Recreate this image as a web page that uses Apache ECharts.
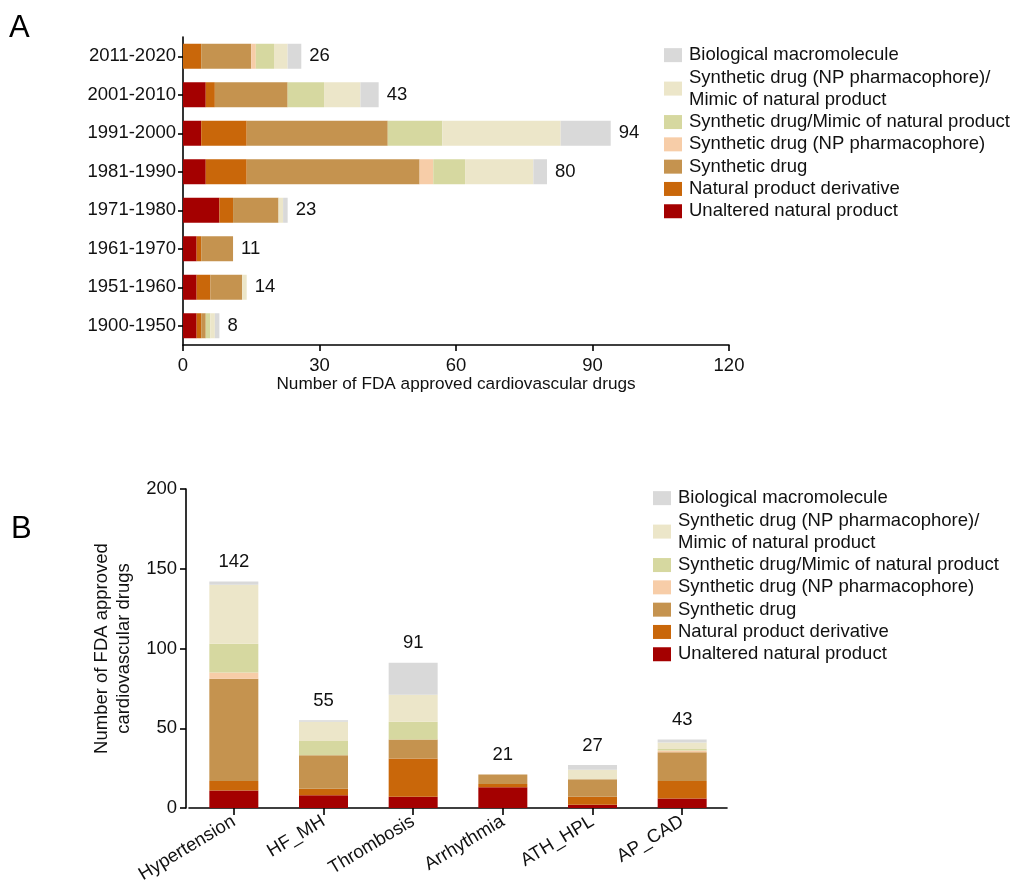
<!DOCTYPE html>
<html>
<head>
<meta charset="utf-8">
<title>FDA approved cardiovascular drugs by source</title>
<script src="https://cdn.jsdelivr.net/npm/echarts@6/dist/echarts.min.js"></script>
<style>
  html, body { margin: 0; padding: 0; background: #fff; }
  #chart { width: 1015px; height: 895px; }
</style>
</head>
<body>
<div id="chart"></div>
<script>
// Source categories, bottom of each stack first
const sourceNames = [
  'Unaltered natural product',
  'Natural product derivative',
  'Synthetic drug',
  'Synthetic drug (NP pharmacophore)',
  'Synthetic drug/Mimic of natural product',
  'Synthetic drug (NP pharmacophore)/Mimic of natural product',
  'Biological macromolecule'
];
const sourceColors = ['#a40000', '#c9670a', '#c5934f', '#f7cda8', '#d6d8a0', '#ece6c9', '#d9d9d9'];

// Panel A: approvals by decade (top row first)
const decades = ['2011-2020', '2001-2010', '1991-2000', '1981-1990', '1971-1980', '1961-1970', '1951-1960', '1900-1950'];
const decadeUnaltered  = [0, 5, 4, 5, 8, 3, 3, 3];
const decadeDerivative = [4, 2, 10, 9, 3, 1, 3, 1];
const decadeSynthetic  = [11, 16, 31, 38, 10, 7, 7, 1];
const decadeNPPharm    = [1, 0, 0, 3, 0, 0, 0, 0];
const decadeSynMimic   = [4, 8, 12, 7, 0, 0, 0, 1];
const decadeNPMimic    = [3, 8, 26, 15, 1, 0, 1, 1];
const decadeBiological = [3, 4, 11, 3, 1, 0, 0, 1];
const decadeTicks = [0, 30, 60, 90, 120];

// Panel B: approvals by indication
const indications = ['Hypertension', 'HF_MH', 'Thrombosis', 'Arrhythmia', 'ATH_HPL', 'AP_CAD'];
const indUnaltered  = [11, 8, 7, 13, 2, 6];
const indDerivative = [6, 4, 24, 2, 5, 11];
const indSynthetic  = [64, 21, 12, 6, 11, 18];
const indNPPharm    = [4, 0, 0, 0, 0, 1];
const indSynMimic   = [18, 9, 11, 0, 0, 1];
const indNPMimic    = [37, 12, 17, 0, 6, 4];
const indBiological = [2, 1, 20, 0, 3, 2];
const indicationTicks = [0, 50, 100, 150, 200];

const decadeSeries = [decadeUnaltered, decadeDerivative, decadeSynthetic, decadeNPPharm, decadeSynMimic, decadeNPMimic, decadeBiological];
const indicationSeries = [indUnaltered, indDerivative, indSynthetic, indNPPharm, indSynMimic, indNPMimic, indBiological];

function totals(groups) {
  return groups[0].map((_, i) => groups.reduce((s, g) => s + g[i], 0));
}
const decadeTotals = totals(decadeSeries);
const indicationTotals = totals(indicationSeries);

const FONT = '"Liberation Sans", Arial, Helvetica, sans-serif';
const FS = 18.5;
const TEXT = '#111';
const AXIS_LINE = { show: true, lineStyle: { color: '#000', width: 1.6 } };

const legendOrder = sourceNames.slice().reverse();
function legendFor(left, top) {
  return {
    orient: 'vertical',
    left: left,
    top: top,
    data: legendOrder,
    itemWidth: 18,
    itemHeight: 14,
    itemGap: 0,
    icon: 'rect',
    selectedMode: false,
    formatter: function (name) {
      return name.replace(')/Mimic', ')/\nMimic');
    },
    textStyle: { fontFamily: FONT, fontSize: FS, color: TEXT, lineHeight: 22.3, padding: [0, 0, 0, 2] }
  };
}

const series = [];
// Panel A stacks (horizontal)
sourceNames.forEach((name, k) => {
  series.push({
    name: name,
    type: 'bar',
    stack: 'decade',
    xAxisIndex: 0,
    yAxisIndex: 0,
    barWidth: 25,
    barGap: '-100%',
    itemStyle: { color: sourceColors[k] },
    data: decadeSeries[k]
  });
});
series.push({
  name: 'decadeTotal',
  type: 'bar',
  xAxisIndex: 0,
  yAxisIndex: 0,
  barWidth: 25,
  barGap: '-100%',
  silent: true,
  z: 1,
  itemStyle: { color: 'rgba(0,0,0,0)' },
  label: { show: true, position: 'right', distance: 8, fontFamily: FONT, fontSize: FS, color: TEXT },
  data: decadeTotals
});
// Panel B stacks (vertical)
sourceNames.forEach((name, k) => {
  series.push({
    name: name,
    type: 'bar',
    stack: 'indication',
    xAxisIndex: 1,
    yAxisIndex: 1,
    barWidth: 49,
    barGap: '-100%',
    itemStyle: { color: sourceColors[k] },
    data: indicationSeries[k]
  });
});
series.push({
  name: 'indicationTotal',
  type: 'bar',
  xAxisIndex: 1,
  yAxisIndex: 1,
  barWidth: 49,
  barGap: '-100%',
  silent: true,
  z: 1,
  itemStyle: { color: 'rgba(0,0,0,0)' },
  label: { show: true, position: 'top', distance: 10, fontFamily: FONT, fontSize: FS, color: TEXT },
  data: indicationTotals
});

const option = {
  animation: false,
  backgroundColor: '#fff',
  textStyle: { fontFamily: FONT },
  graphic: [
    { type: 'text', left: 9, top: 13, style: { text: 'A', font: '31px ' + FONT, fill: '#000' } },
    { type: 'text', left: 11, top: 514, style: { text: 'B', font: '31px ' + FONT, fill: '#000' } }
  ],
  legend: [legendFor(659, 39), legendFor(648, 482)],
  grid: [
    { left: 183, right: 286, top: 37, bottom: 550 },
    { left: 189, right: 288, top: 489, bottom: 87 }
  ],
  xAxis: [
    {
      gridIndex: 0,
      type: 'value',
      min: decadeTicks[0],
      max: decadeTicks[decadeTicks.length - 1],
      interval: decadeTicks[1] - decadeTicks[0],
      axisLine: AXIS_LINE,
      axisTick: { show: true, length: 6, lineStyle: { color: '#000', width: 1.6 } },
      splitLine: { show: false },
      axisLabel: { fontFamily: FONT, fontSize: FS, color: TEXT, margin: 11 },
      name: 'Number of FDA approved cardiovascular drugs',
      nameLocation: 'middle',
      nameGap: 30,
      nameTextStyle: { fontFamily: FONT, fontSize: 17.2, color: TEXT }
    },
    {
      gridIndex: 1,
      type: 'category',
      data: indications,
      axisLine: AXIS_LINE,
      axisTick: { show: true, alignWithLabel: true, length: 7, lineStyle: { color: '#000', width: 1.6 } },
      axisLabel: { fontFamily: FONT, fontSize: FS, color: TEXT, rotate: 31, margin: 12, interval: 0 }
    }
  ],
  yAxis: [
    {
      gridIndex: 0,
      type: 'category',
      inverse: true,
      data: decades,
      axisLine: AXIS_LINE,
      axisTick: { show: true, alignWithLabel: true, length: 5, lineStyle: { color: '#000', width: 1.6 } },
      axisLabel: { fontFamily: FONT, fontSize: FS, color: TEXT, margin: 7 }
    },
    {
      gridIndex: 1,
      type: 'value',
      offset: 3,
      min: indicationTicks[0],
      max: indicationTicks[indicationTicks.length - 1],
      interval: indicationTicks[1] - indicationTicks[0],
      axisLine: AXIS_LINE,
      axisTick: { show: true, length: 6, lineStyle: { color: '#000', width: 1.6 } },
      splitLine: { show: false },
      axisLabel: { fontFamily: FONT, fontSize: FS, color: TEXT, margin: 9 },
      name: 'Number of FDA approved\ncardiovascular drugs',
      nameLocation: 'middle',
      nameRotate: 90,
      nameGap: 51,
      nameTextStyle: { fontFamily: FONT, fontSize: FS, color: TEXT, lineHeight: 22, align: 'center' }
    }
  ],
  series: series
};

const chart = echarts.init(document.getElementById('chart'), null, { renderer: 'canvas' });
chart.setOption(option);
</script>
</body>
</html>
